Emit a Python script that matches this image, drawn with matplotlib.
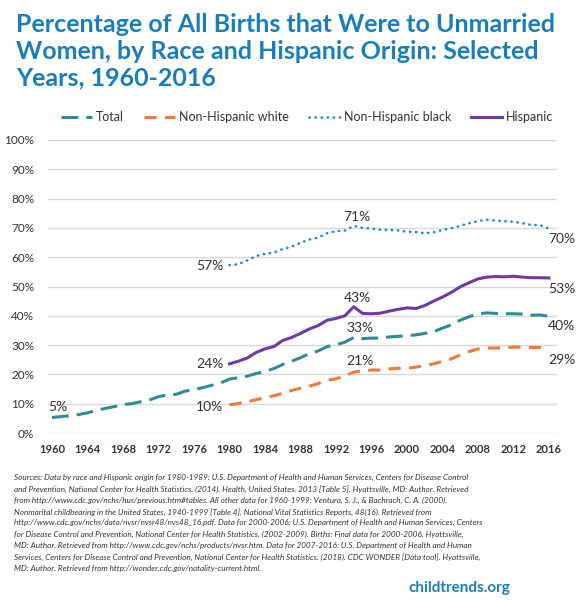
import matplotlib
matplotlib.use("Agg")
import matplotlib.pyplot as plt
import numpy as np

plt.rcParams['font.family'] = ['Lato', 'DejaVu Sans']

# ---- data (percent of births to unmarried women) ----
years_total = list(range(1960, 2017))
total = [5.3, 5.6, 5.9, 6.3, 6.9, 7.7, 8.4, 9.0, 9.7, 10.0,
         10.7, 11.3, 12.4, 13.0, 13.2, 14.3, 14.8, 15.5, 16.3, 17.1,
         18.4, 18.9, 19.4, 20.3, 21.0, 22.0, 23.4, 24.5, 25.7, 27.1,
         28.0, 29.5, 30.1, 31.0, 32.6, 32.2, 32.4, 32.4, 32.8, 33.0,
         33.2, 33.5, 34.0, 34.6, 35.8, 36.9, 38.5, 39.7, 40.6, 41.0,
         40.8, 40.7, 40.7, 40.6, 40.2, 40.3, 39.8]

years_race = list(range(1980, 2017))
nh_white = [9.6, 10.1, 10.6, 11.4, 12.0, 12.7, 13.6, 14.5, 15.3, 16.0,
            16.9, 18.0, 18.5, 19.5, 20.8, 21.2, 21.5, 21.5, 21.9, 22.1,
            22.1, 22.5, 23.0, 23.6, 24.5, 25.3, 26.6, 27.8, 28.7, 29.0,
            29.0, 29.1, 29.3, 29.3, 29.2, 29.2, 28.4]
nh_black = [57.3, 57.6, 58.9, 60.4, 61.2, 61.6, 62.8, 63.6, 64.9, 66.0,
            66.7, 68.2, 68.9, 69.1, 70.7, 70.0, 69.8, 69.4, 69.3, 69.1,
            68.7, 68.6, 68.2, 68.5, 69.3, 69.9, 70.7, 71.6, 72.3, 72.8,
            72.5, 72.3, 72.1, 71.6, 71.0, 70.9, 69.8]
hispanic = [23.6, 24.5, 25.6, 27.5, 28.7, 29.5, 31.6, 32.6, 34.0, 35.5,
            36.7, 38.5, 39.1, 40.0, 43.1, 40.8, 40.7, 40.9, 41.6, 42.2,
            42.7, 42.5, 43.5, 45.0, 46.4, 48.0, 49.9, 51.3, 52.6, 53.2,
            53.4, 53.3, 53.5, 53.2, 53.0, 53.0, 52.9]

xticks = list(range(1960, 2017, 4))
yticks = list(range(0, 101, 10))

teal = '#2F8A9A'
orange = '#F4783A'
blue = '#1E88D0'
purple = '#6E3AA8'
txt = '#333333'

fig = plt.figure(figsize=(5.77, 6.0), dpi=100)
ax = fig.add_axes([0.0832, 0.2783, 0.8821, 0.4884])

ax.set_xlim(1959.55, 2016.9)
ax.set_ylim(0, 100)
ax.set_yticks(yticks)
ax.set_yticklabels([f"{v}%" for v in yticks])
ax.set_xticks(xticks)
ax.set_xticklabels([str(v) for v in xticks], fontweight='bold')
ax.tick_params(axis='both', length=0, colors=txt)
ax.tick_params(axis='y', labelsize=8.5, pad=10)
ax.tick_params(axis='x', labelsize=8, pad=8)
ax.grid(axis='y', color='#D9D9D9', linewidth=1)
ax.set_axisbelow(True)
for s in ax.spines.values():
    s.set_visible(False)

l1, = ax.plot(years_total, total, color=teal, lw=2.2, dashes=(5.5, 2.6), label='Total')
l2, = ax.plot(years_race, nh_white, color=orange, lw=2.2, dashes=(4, 2.7), label='Non-Hispanic white')
l3, = ax.plot(years_race, nh_black, color=blue, lw=1.9, dashes=(0.1, 2.2),
              dash_capstyle='round', label='Non-Hispanic black')
l4, = ax.plot(years_race, hispanic, color=purple, lw=2.2, label='Hispanic')

# data labels
def lab(x, y, dx, dy, s, ha):
    ax.annotate(s, (x, y), xytext=(dx, dy), textcoords='offset pixels',
                ha=ha, va='center', fontsize=10, color=txt)

lab(1960, total[0], 6, 10, "5%", 'center')
lab(1980, nh_white[0], -6, -2, "10%", 'right')
lab(1980, hispanic[0], -6, 0, "24%", 'right')
lab(1980, nh_black[0], -6, -1, "57%", 'right')
lab(1994, nh_black[14], 3, 9, "71%", 'center')
lab(1994, hispanic[14], 4, 9, "43%", 'center')
lab(1994, total[34], 6, 9.5, "33%", 'center')
lab(1994, nh_white[14], 6, 11, "21%", 'center')
lab(2016, nh_black[-1], -1, -10.5, "70%", 'left')
lab(2016, hispanic[-1], -1, -11, "53%", 'left')
lab(2016, total[-1], -1, -10, "40%", 'left')
lab(2016, nh_white[-1], -1, -10, "29%", 'left')

fig.legend(handles=[l1, l2, l3, l4], loc='center', bbox_to_anchor=(0.532, 0.805),
           ncol=4, frameon=False, fontsize=9, handlelength=2.5, handletextpad=0.3,
           columnspacing=1.6, labelcolor=txt)

fig.text(0.028, 0.978,
         "Percentage of All Births that Were to Unmarried\n"
         "Women, by Race and Hispanic Origin: Selected\n"
         "Years, 1960-2016",
         ha='left', va='top', fontsize=18, fontweight='bold', color='#1A7DC0',
         linespacing=1.2)

sources = [
    "Sources: Data by race and Hispanic origin for 1980-1989: U.S. Department of Health and Human Services, Centers for Disease Control",
    "and Prevention, National Center for Health Statistics. (2014). Health, United States, 2013 [Table 5]. Hyattsville, MD: Author. Retrieved",
    "from http://www.cdc.gov/nchs/hus/previous.htm#tables. All other data for 1960-1999: Ventura, S. J., & Bachrach, C. A. (2000).",
    "Nonmarital childbearing in the United States, 1940-1999 [Table 4]. National Vital Statistics Reports, 48(16). Retrieved from",
    "http://www.cdc.gov/nchs/data/nvsr/nvsr48/nvs48_16.pdf. Data for 2000-2006: U.S. Department of Health and Human Services, Centers",
    "for Disease Control and Prevention, National Center for Health Statistics. (2002-2009). Births: Final data for 2000-2006. Hyattsville,",
    "MD: Author. Retrieved from http://www.cdc.gov/nchs/products/nvsr.htm. Data for 2007-2016: U.S. Department of Health and Human",
    "Services, Centers for Disease Control and Prevention, National Center for Health Statistics. (2018). CDC WONDER [Data tool]. Hyattsville,",
    "MD: Author. Retrieved from http://wonder.cdc.gov/natality-current.html.",
]
for i, line in enumerate(sources):
    fig.text(0.024, 1 - (477.7 + i * 11.3) / 600, line, ha='left', va='center',
             fontsize=5.85, style='italic', color=txt)

fig.text(0.884, 1 - 588 / 600, "childtrends.org", ha='right', va='center',
         fontsize=11, fontweight='bold', color='#1F7DC1')

fig.savefig("out.png", dpi=100)
